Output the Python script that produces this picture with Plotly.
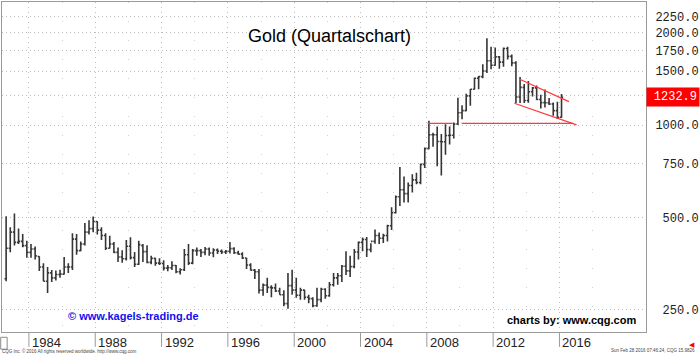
import math
import plotly.graph_objects as go

# ---- data (quarterly OHLC, gold) ----
start_year, start_q = 1982, 3
opens = [316, 397, 448, 415, 418, 405, 385, 395, 373, 345,
         310, 330, 318, 326, 327, 345, 345, 425, 390, 410,
         448, 460, 485, 455, 437, 397, 410, 385, 372, 367,
         403, 370, 352, 405, 387, 357, 368, 355, 354, 342,
         343, 349, 333, 338, 378, 355, 390, 390, 385, 395,
         383, 392, 388, 386, 388, 396, 384, 380, 369, 350,
         337, 333, 290, 301, 296, 295, 288, 280, 262, 300,
         290, 279, 290, 275, 272, 258, 270, 292, 278, 302,
         318, 323, 347, 335, 346, 386, 415, 424, 393, 418,
         437, 428, 437, 470, 518, 584, 616, 598, 636, 663,
         650, 745, 838, 930, 930, 884, 883, 925, 927, 1008,
         1097, 1115, 1245, 1308, 1421, 1439, 1500, 1620, 1566, 1668,
         1604, 1776, 1675, 1595, 1234, 1327, 1202, 1284, 1322, 1211,
         1184, 1183, 1172, 1115, 1061]
highs = [505, 465, 515, 460, 442, 420, 410, 402, 374, 355,
         345, 337, 336, 338, 372, 355, 444, 442, 418, 480,
         490, 504, 486, 465, 444, 436, 416, 399, 391, 422,
         431, 386, 420, 410, 406, 375, 370, 368, 363, 350,
         360, 350, 342, 395, 410, 395, 399, 395, 401, 399,
         397, 396, 393, 392, 416, 400, 390, 385, 370, 355,
         340, 340, 305, 318, 301, 305, 295, 290, 330, 338,
         318, 295, 291, 280, 275, 295, 295, 294, 308, 330,
         330, 350, 388, 375, 395, 418, 430, 432, 412, 457,
         447, 443, 474, 540, 590, 730, 680, 650, 692, 700,
         750, 845, 1033, 945, 990, 935, 1007, 990, 1020, 1227,
         1160, 1265, 1310, 1430, 1445, 1577, 1920, 1800, 1790, 1680,
         1790, 1800, 1697, 1615, 1434, 1362, 1392, 1330, 1345, 1255,
         1307, 1225, 1185, 1192, 1263]
lows = [310, 385, 405, 410, 400, 370, 370, 365, 335, 310,
        284, 308, 312, 318, 326, 330, 337, 378, 388, 405,
        440, 448, 440, 422, 392, 396, 383, 358, 356, 362,
        365, 345, 350, 358, 355, 352, 348, 350, 336, 334,
        337, 329, 326, 335, 350, 352, 375, 372, 377, 375,
        371, 380, 380, 380, 382, 380, 378, 366, 340, 336,
        315, 283, 278, 284, 275, 286, 280, 257, 252, 280,
        274, 270, 270, 263, 255, 256, 265, 272, 276, 298,
        302, 308, 325, 320, 342, 365, 388, 372, 385, 411,
        410, 413, 418, 455, 515, 545, 560, 560, 603, 642,
        642, 725, 835, 850, 735, 685, 800, 865, 905, 1000,
        1045, 1110, 1157, 1305, 1308, 1420, 1478, 1520, 1560, 1527,
        1550, 1635, 1555, 1180, 1180, 1180, 1182, 1240, 1208, 1132,
        1142, 1162, 1072, 1046, 1057]
closes = [397, 448, 415, 418, 405, 385, 395, 375, 345, 310,
          330, 318, 326, 327, 345, 345, 425, 390, 410, 448,
          460, 485, 455, 437, 397, 410, 385, 372, 367, 403,
          370, 352, 408, 387, 357, 368, 355, 354, 342, 343,
          349, 333, 338, 378, 355, 390, 390, 385, 395, 383,
          392, 388, 386, 388, 396, 384, 380, 369, 350, 337,
          333, 290, 301, 296, 295, 288, 280, 262, 300, 290,
          279, 290, 275, 272, 258, 270, 292, 278, 302, 318,
          323, 347, 335, 346, 386, 415, 424, 393, 418, 437,
          428, 437, 470, 518, 584, 616, 598, 636, 663, 650,
          745, 838, 930, 930, 884, 883, 925, 927, 1008, 1097,
          1115, 1245, 1308, 1421, 1439, 1500, 1620, 1566, 1668, 1604,
          1776, 1675, 1595, 1234, 1327, 1202, 1284, 1322, 1211, 1184,
          1183, 1172, 1115, 1061, 1232.9]

# trend lines (decimal year, price)
level_line_1_x = [2008.05, 2009.56]
level_line_1_y = [1013, 1013]
level_line_2_x = [2010.10, 2016.83]
level_line_2_y = [1013, 1013]
upper_channel_x = [2013.57, 2016.57]
upper_channel_y = [1413, 1192]
lower_channel_x = [2013.28, 2017.03]
lower_channel_y = [1178, 1002]

year_ticks = [1984, 1988, 1992, 1996, 2000, 2004, 2008, 2012, 2016]
minor_years = [1986, 1990, 1994, 1998, 2002, 2006, 2010, 2014, 2018]
price_ticks = [250, 500, 750, 1000, 1250, 1500, 1750, 2000, 2250, 2500]
price_labels = ["250.0", "500.0", "750.0", "1000.0", "", "1500.0",
                "1750.0", "2000.0", "2250.0", ""]
last_price = 1232.9

# ---- derived x positions (quarter midpoints) ----
xs = []
y, q = start_year, start_q
for _ in closes:
    xs.append(y + (q - 1) / 4 + 0.125)
    q += 1
    if q > 4:
        q = 1
        y += 1

fig = go.Figure()
fig.add_trace(go.Ohlc(
    x=xs, open=opens, high=highs, low=lows, close=closes,
    increasing=dict(line=dict(color="#363636", width=1.6)),
    decreasing=dict(line=dict(color="#363636", width=1.6)),
    tickwidth=0.4, hoverinfo="skip"))

red = "#ff3a3a"
for lx, ly in [(level_line_1_x, level_line_1_y), (level_line_2_x, level_line_2_y),
               (upper_channel_x, upper_channel_y), (lower_channel_x, lower_channel_y)]:
    fig.add_trace(go.Scatter(x=lx, y=ly, mode="lines",
                             line=dict(color=red, width=1.3), hoverinfo="skip"))

mono = "Liberation Mono"
sans = "Liberation Sans"
pad_labels = [("\u00a0" * (6 - len(t)) + t) if t else "" for t in price_labels]

annotations = []
for yr in year_ticks:
    annotations.append(dict(x=yr, y=0, xref="x", yref="paper", text=str(yr),
                            showarrow=False, xanchor="left", yanchor="top",
                            xshift=1, yshift=-1,
                            font=dict(family=sans, size=13, color="#222222")))
annotations += [
    dict(x=0.508, y=0.897, xref="paper", yref="paper", text="Gold (Quartalschart)",
         showarrow=False, xanchor="center", yanchor="middle",
         font=dict(family=sans, size=18, color="#000000")),
    dict(x=0.2036, y=0.048, xref="paper", yref="paper",
         text="<b>\u00a9 www.kagels-trading.de</b>",
         showarrow=False, xanchor="center", yanchor="middle",
         font=dict(family=sans, size=11, color="#1010ee")),
    dict(x=0.885, y=0.036, xref="paper", yref="paper", text="<b>charts by: www.cqg.com</b>",
         showarrow=False, xanchor="center", yanchor="middle",
         font=dict(family=sans, size=11, color="#000000")),
    dict(x=1, y=math.log10(last_price), xref="paper", yref="y",
         text="%.1f" % last_price, showarrow=False, xanchor="left", yanchor="middle",
         bgcolor="#ff0000", width=48, align="right", borderpad=2,
         font=dict(family=mono, size=12, color="#ffffff")),
    dict(x=-0.003, y=-0.057, xref="paper", yref="paper",
         text="CQG Inc. \u00a9 2016 All rights reserved worldwide. http://www.cqg.com",
         showarrow=False, xanchor="left", yanchor="middle",
         font=dict(family=sans, size=4.5, color="#444444")),
    dict(x=1.079, y=-0.057, xref="paper", yref="paper",
         text="Sun Feb 28 2016 07:46:24, CQG 15.9826",
         showarrow=False, xanchor="right", yanchor="middle",
         font=dict(family=sans, size=4.5, color="#444444")),
    dict(x=1.079, y=-0.04, xref="paper", yref="paper", text="\u25c0",
         showarrow=False, xanchor="right", yanchor="middle",
         font=dict(family="DejaVu Sans", size=7, color="#ff0000")),
]

shapes = []
for yr in year_ticks:
    shapes.append(dict(type="line", xref="x", yref="paper", x0=yr, x1=yr, y0=0, y1=-0.045,
                       line=dict(color="#9a9a9a", width=1)))
shapes.append(dict(type="rect", xref="paper", yref="paper", x0=-0.002, x1=0.008,
                   y0=-0.016, y1=-0.052, line=dict(color="#8a8a8a", width=1)))

fig.update_layout(
    width=700, height=356,
    margin=dict(l=2, r=52, t=1, b=24),
    paper_bgcolor="#ffffff", plot_bgcolor="#ffffff",
    showlegend=False,
    annotations=annotations, shapes=shapes,
    xaxis=dict(range=[1982.376, 2021.22], tickvals=year_ticks, showticklabels=False,
               ticks="", showgrid=True, gridcolor="#bdbdbd", griddash="1px,4px", gridwidth=1,
               zeroline=False, showline=True, linecolor="#9a9a9a", mirror=True,
               rangeslider=dict(visible=False),
               minor=dict(tickvals=minor_years, showgrid=True, gridcolor="#cfcfcf",
                          griddash="1px,18px", ticks="")),
    yaxis=dict(type="log", range=[2.326, 3.401], side="right",
               tickvals=price_ticks, ticktext=pad_labels, ticks="",
               tickfont=dict(family=mono, size=12, color="#222222"),
               ticklabelstandoff=6,
               showgrid=True, gridcolor="#bdbdbd", griddash="1px,3px", gridwidth=1,
               zeroline=False, showline=True, linecolor="#9a9a9a", mirror=True),
)

fig.write_html("out.html", config={"displayModeBar": False},
               post_script="document.body.style.margin='0';document.body.style.padding='0';")
